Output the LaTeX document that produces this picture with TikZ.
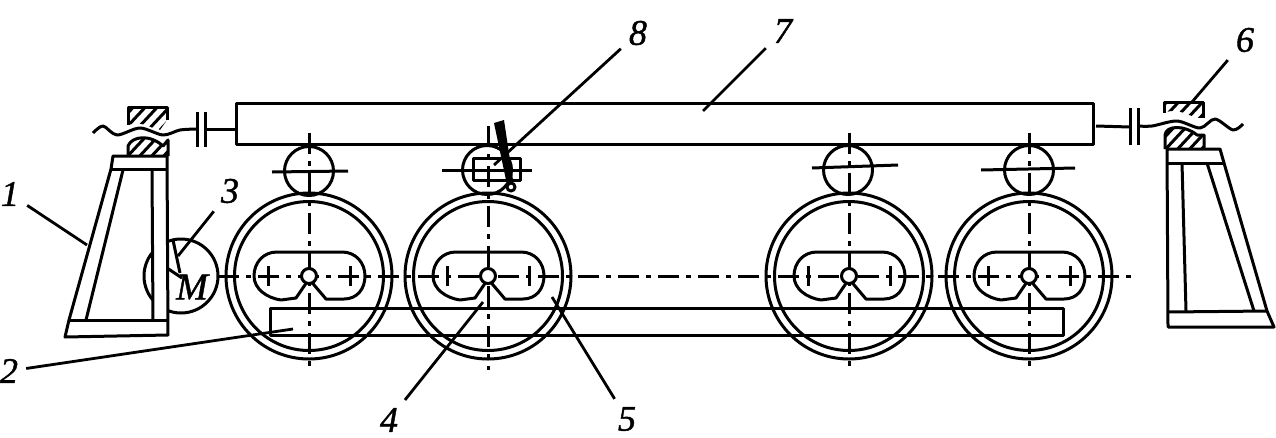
\documentclass[tikz,border=0pt]{standalone}
\usepackage{fontspec}
\setmainfont[ItalicFeatures={FakeBold=1.2}]{Liberation Serif}
\usepackage{tikz}
\tikzset{
  part/.style={line width=3pt,line join=round},
  leader/.style={line width=2.8pt},
  axisline/.style={line width=3pt,dash pattern=on 21pt off 7pt on 5pt off 7pt},
  callout/.style={font=\fontsize{36}{36}\selectfont\itshape,inner sep=8pt},
}
% hatching for one bearing half, clip path comes first
\newcommand{\hatchlines}[2]{
  \foreach \h in {0,12,...,60}{
    \draw[line width=3pt] (#1+\h-16,#2+14) -- (#1+\h+12,#2-16);
  }
}
\begin{document}
\begin{tikzpicture}[x=1pt,y=-1pt]
  \useasboundingbox (0,0) rectangle (1276,437);

  % beam and base
  \draw[part] (236,103) rectangle (1093,144);
  \draw[part] (270,308) rectangle (1063,335);

  % main axis
  \draw[axisline] (218,276) -- (1135,276);

  % wheels with slot
  \foreach \cx/\topy in {309/143,488/150,849/143,1029/143}{
    \begin{scope}[shift={(\cx,276)}]
      \draw[part] (0,0) circle (83);
      \draw[part] (0,0) circle (74.5);
      \draw[part] (-32,-24) -- (33,-24) .. controls (47,-24) and (56,-13) .. (56,0)
        .. controls (56,13) and (48,23) .. (35,23) -- (17,23) -- (0,3) -- (-13,22)
        -- (-28,24) .. controls (-42,22) and (-55,13) .. (-55,0)
        .. controls (-55,-13) and (-46,-24) .. (-32,-24) -- cycle;
      \draw[part] (-41,-10) -- (-41,10);
      \draw[part] (41,-10) -- (41,10);
      \draw[axisline] (0,-\topy) -- (0,94);
      \draw[part,fill=white] (0,0) circle (7.5);
    \end{scope}
  }

  % rollers under the beam
  \foreach \cx/\cy/\xa/\xb/\ya/\yb in {309/171/272/348/172/171,487/170/442/532/170/170,
    848/170/812/898/168/165,1029/170/981/1075/170/168}{
    \draw[part] (\cx,\cy) circle (24.5);
    \draw[part] (\xa,\ya) -- (\xb,\yb);
  }

  % left pedestal
  \draw[part] (111,169) -- (113,156) -- (167,156) -- (168,335) -- (65,337) -- (69,320) -- cycle;
  \draw[part] (111,169) -- (166,169);
  \draw[part] (69,320) -- (168,320);
  \draw[part] (123,170) -- (86,320);
  \draw[part] (152,170) -- (153,320);

  % left bearing
  \begin{scope}
    \clip (128,107) -- (167,107) -- (167,120) -- (160,130) .. controls (152,130) and (145,120) .. (128,125) -- cycle;
    \hatchlines{128}{116}
  \end{scope}
  \draw[part] (128,125) -- (128,107) -- (167,107) -- (167,120);
  \begin{scope}
    \clip (128,146) .. controls (132,136) and (150,134) .. (163,146) -- (168,140) -- (168,156) -- (128,156) -- cycle;
    \hatchlines{128}{146}
  \end{scope}
  \draw[part] (128,156) -- (128,146) .. controls (132,136) and (150,134) .. (163,146) -- (168,140) -- (168,156);

  % left shaft and coupling
  \draw[part] plot[smooth] coordinates {(93,133) (103,126) (117,135) (140,128) (163,135) (180,130) (197,129)};
  \draw[part] (197,112) -- (197,147);
  \draw[part] (205,112) -- (205,147);
  \draw[part] (205,129) -- (236,129);

  % motor, hidden behind the pedestal
  \begin{scope}
    \clip (130,235) rectangle (153,320);
    \draw[part] (181,276) circle (37);
  \end{scope}
  \begin{scope}
    \clip (169,235) rectangle (225,320);
    \draw[part] (181,276) circle (37);
  \end{scope}
  \draw[part] (173,240) -- (180,273);
  \draw[part] (167,268) -- (182,278);
  \node[font=\fontsize{38}{38}\selectfont\itshape,inner sep=0pt] (motorlab) at (192,287) {M};

  % right pedestal
  \draw[part] (1167,149) -- (1220,149) -- (1224,163) -- (1267,311) -- (1274,327) -- (1168,327) -- cycle;
  \draw[part] (1167,163) -- (1224,163);
  \draw[part] (1168,312) -- (1267,311);
  \draw[part] (1182,163) -- (1186,311);
  \draw[part] (1207,163) -- (1254,311);

  % right bearing
  \begin{scope}
    \clip (1164,102) -- (1203,102) -- (1203,118) .. controls (1190,119) and (1180,106) .. (1164,113) -- cycle;
    \hatchlines{1164}{108}
  \end{scope}
  \draw[part] (1164,113) -- (1164,102) -- (1203,102) -- (1203,118);
  \begin{scope}
    \clip (1165,135) .. controls (1166,125) and (1185,125) .. (1197,135) -- (1204,135) -- (1204,149) -- (1165,149) -- cycle;
    \hatchlines{1165}{140}
  \end{scope}
  \draw[part] (1165,149) -- (1165,135) .. controls (1166,125) and (1185,125) .. (1197,135) -- (1204,135) -- (1204,149);

  % right shaft and coupling
  \draw[part] (1096,126) -- (1130,127);
  \draw[part] (1130,108) -- (1130,145);
  \draw[part] (1138,108) -- (1138,145);
  \draw[part] plot[smooth] coordinates {(1138,126) (1152,126) (1177,121) (1200,128) (1215,119) (1233,130) (1243,124)};

  % clamp on the second roller
  \draw[part] (473,158) rectangle (520,180);
  \fill (494,123) -- (504,120) -- (513,180) -- (506,180) -- cycle;
  \draw[part] (511,187) circle (4);

  % callouts
  \node[callout] (lab1) at (10,194) {1};
  \node[callout] (lab2) at (9,371) {2};
  \node[callout] (lab3) at (230,191) {3};
  \node[callout] (lab4) at (389,420) {4};
  \node[callout] (lab5) at (627,419) {5};
  \node[callout] (lab6) at (1245,40) {6};
  \node[callout] (lab7) at (783,31) {7};
  \node[callout] (lab8) at (638,33) {8};

  \coordinate (tip1) at (87,245);
  \coordinate (tip2) at (293,329);
  \coordinate (tip3) at (178,256);
  \coordinate (tip4) at (483,302);
  \coordinate (tip5) at (552,297);
  \coordinate (tip6) at (1192,102);
  \coordinate (tip7) at (703,111);
  \coordinate (tip8) at (494,165);

  \foreach \n in {1,...,8}{
    \draw[leader] (lab\n) -- (tip\n);
  }
\end{tikzpicture}
\end{document}
